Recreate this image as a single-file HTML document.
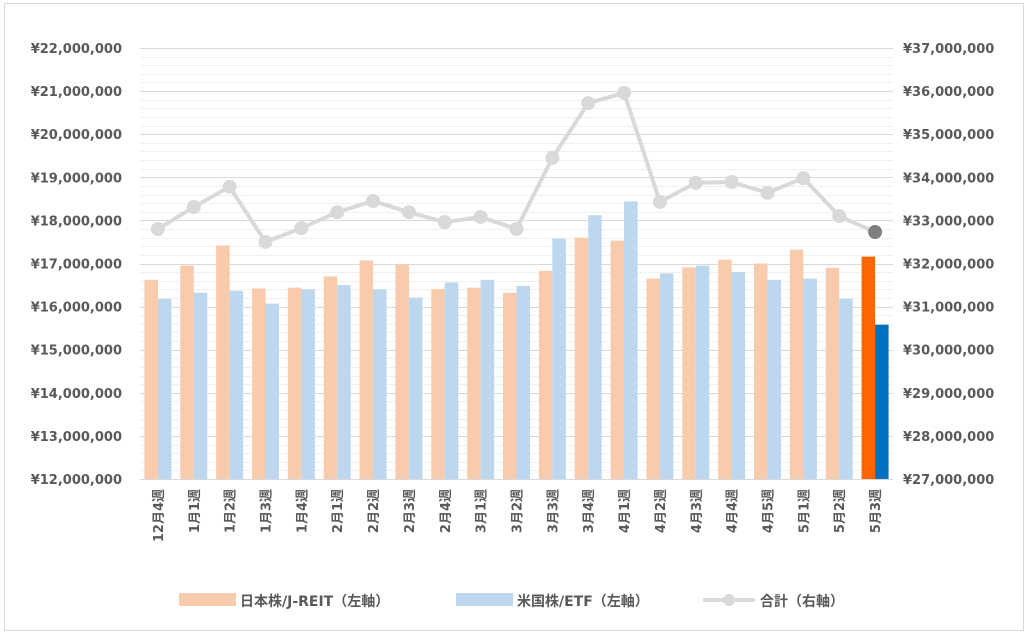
<!DOCTYPE html>
<html><head><meta charset="utf-8">
<style>
body{margin:0;background:#fff;}
svg{display:block;font-family:"DejaVu Sans","Noto Sans CJK JP",sans-serif;}
</style></head>
<body>
<svg id="chart" width="1028" height="636">
<rect x="4.5" y="3.5" width="1019" height="627" fill="#fff" stroke="#d9d9d9"/>
<g id="grid"></g>
<g id="bars"></g>
<g id="line"></g>
<g id="axes"></g>
<g id="legend" font-size="14" font-weight="bold" fill="#595959">
<rect x="179" y="593" width="57" height="13" fill="#F8CBAD"/>
<text x="240" y="606">日本株/J-REIT（左軸）</text>
<rect x="456" y="593" width="57" height="13" fill="#BDD7EE"/>
<text x="517" y="606">米国株/ETF（左軸）</text>
<line x1="703" y1="600" x2="755" y2="600" stroke="#d9d9d9" stroke-width="4"/>
<circle cx="729" cy="600" r="6" fill="#d9d9d9"/>
<text x="760" y="606">合計（右軸）</text>
</g>
</svg>
<script>
const categories=["12月4週","1月1週","1月2週","1月3週","1月4週","2月1週","2月2週","2月3週","2月4週","3月1週","3月2週","3月3週","3月4週","4月1週","4月2週","4月3週","4月4週","4月5週","5月1週","5月2週","5月3週"];
const japanValues=[16.62,16.95,17.42,16.42,16.44,16.70,17.07,16.98,16.41,16.44,16.32,16.83,17.60,17.53,16.65,16.91,17.09,17.00,17.32,16.90,17.16];
const usValues=[16.18,16.32,16.37,16.07,16.40,16.50,16.40,16.21,16.56,16.62,16.48,17.58,18.12,18.44,16.77,16.95,16.80,16.62,16.65,16.18,15.58];
const totalValues=[32.80,33.31,33.78,32.50,32.82,33.19,33.45,33.19,32.96,33.08,32.80,34.45,35.72,35.96,33.43,33.87,33.89,33.64,33.98,33.10,32.73];
const leftTicks=["¥12,000,000","¥13,000,000","¥14,000,000","¥15,000,000","¥16,000,000","¥17,000,000","¥18,000,000","¥19,000,000","¥20,000,000","¥21,000,000","¥22,000,000"];
const rightTicks=["¥27,000,000","¥28,000,000","¥29,000,000","¥30,000,000","¥31,000,000","¥32,000,000","¥33,000,000","¥34,000,000","¥35,000,000","¥36,000,000","¥37,000,000"];
const NS="http://www.w3.org/2000/svg";
const X0=140,X1=893,Y0=479,Y1=48;
const yL=v=>Y0-(v-12)/10*(Y0-Y1);
const yR=v=>Y0-(v-27)/10*(Y0-Y1);
const cw=(X1-X0)/categories.length;
const xC=i=>X0+cw*(i+0.5);
function mk(tag,attrs,parent){const e=document.createElementNS(NS,tag);for(const k in attrs)e.setAttribute(k,attrs[k]);parent.appendChild(e);return e;}
const grid=document.getElementById('grid'),bars=document.getElementById('bars'),line=document.getElementById('line'),axes=document.getElementById('axes');
for(let k=0;k<=50;k++){const v=12+k*0.2;const y=Math.round(yL(v))+0.5;const major=k%5===0;
 const l=mk('line',{x1:X0,x2:X1,y1:y,y2:y,stroke:major?'#d9d9d9':'#f0f0f0','stroke-width':1},grid);
 
 }
leftTicks.forEach((t,i)=>{const e=mk('text',{x:122,y:yL(12+i)+5,'text-anchor':'end','font-size':13,'font-weight':'bold',fill:'#595959'},axes);e.textContent=t;
 
 });
rightTicks.forEach((t,i)=>{const e=mk('text',{x:903,y:yR(27+i)+5,'font-size':13,'font-weight':'bold',fill:'#595959'},axes);e.textContent=t;
 
 });
const bw=13.5;
categories.forEach((c,i)=>{const last=i===categories.length-1;const cx=xC(i);
 const a=mk('rect',{x:cx-bw,y:yL(japanValues[i]),width:bw,height:Y0-yL(japanValues[i]),fill:last?'#FF6600':'#F8CBAD'},bars);
 
 
 const b=mk('rect',{x:cx,y:yL(usValues[i]),width:bw,height:Y0-yL(usValues[i]),fill:last?'#0070C0':'#BDD7EE'},bars);
 
 
 const t=mk('text',{transform:`translate(${cx+5},489) rotate(-90)`,'text-anchor':'end','font-size':13,'font-weight':'bold',fill:'#595959'},axes);t.textContent=c;
 
 });
const pts=totalValues.map((v,i)=>xC(i)+','+yR(v)).join(' ');
const pl=mk('polyline',{points:pts,fill:'none',stroke:'#d9d9d9','stroke-width':4,'stroke-linejoin':'round'},line);


totalValues.forEach((v,i)=>{const last=i===totalValues.length-1;
 const c=mk('circle',{cx:xC(i),cy:yR(v),r:7,fill:last?'#7f7f7f':'#d9d9d9'},line);
 
 });
const ax=mk('line',{x1:X0,x2:X1,y1:Y0+0.5,y2:Y0+0.5,stroke:'#d9d9d9'},axes);


</script>
</body></html>
